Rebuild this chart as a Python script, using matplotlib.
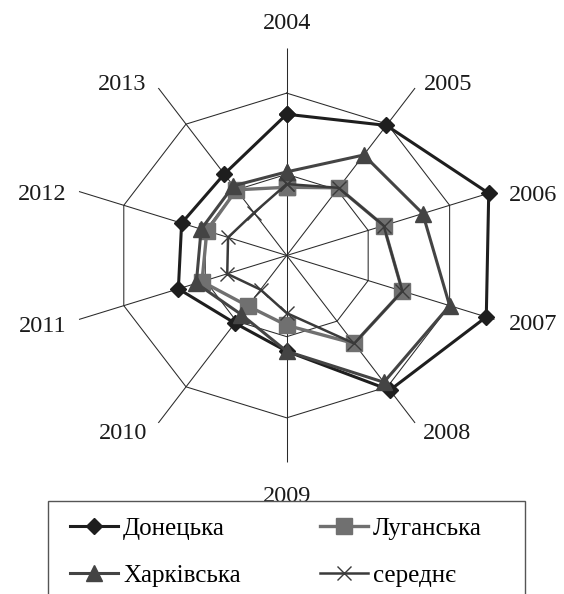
import numpy as np
import matplotlib.pyplot as plt
from matplotlib import font_manager
from matplotlib.patches import Rectangle

# pick a Times-like serif face from the installed files
serif_name = 'DejaVu Serif'
for path in font_manager.findSystemFonts():
    if 'LiberationSerif-Regular' in path:
        font_manager.fontManager.addfont(path)
        serif_name = font_manager.FontProperties(fname=path).get_name()
        break
plt.rcParams['font.family'] = [serif_name, 'DejaVu Serif']

# Categories and series
years = ['2004', '2005', '2006', '2007', '2008', '2009', '2010', '2011', '2012', '2013']
donetska = [1.74, 1.98, 2.48, 2.45, 2.05, 1.18, 1.03, 1.33, 1.29, 1.24]
luhanska = [0.84, 1.03, 1.19, 1.42, 1.34, 0.86, 0.77, 1.04, 0.98, 1.00]
kharkivska = [1.03, 1.53, 1.67, 2.00, 1.93, 1.18, 0.90, 1.11, 1.05, 1.06]
serednie = [0.88, 1.03, 1.19, 1.42, 1.34, 0.71, 0.52, 0.73, 0.72, 0.65]
rings = [1, 2]

RMAX = 2.55

fig = plt.figure(figsize=(5.64, 5.94), dpi=100)
ax = fig.add_axes([0.1211, 0.2214, 0.7745, 0.697], projection='polar')
ax.set_theta_offset(np.pi / 2)
ax.set_theta_direction(-1)
ax.set_aspect('auto')
ax.set_ylim(0, RMAX)

n = len(years)
theta = np.arange(n) * 2 * np.pi / n
theta_c = np.append(theta, theta[0])

# spokes
ax.set_xticks(theta)
ax.set_xticklabels([''] * n)
ax.set_yticks([])
ax.xaxis.grid(True, color='#2a2a2a', lw=0.75)
ax.spines['polar'].set_visible(False)

# polygon rings
for r in rings:
    ax.plot(theta_c, [r] * (n + 1), color='#2a2a2a', lw=0.75, zorder=1)


def closed(v):
    return list(v) + [v[0]]


l_don, = ax.plot(theta_c, closed(donetska), color='#1e1e1e', lw=2.2, marker='D', ms=8.5,
                 mec='#1e1e1e', mfc='#1e1e1e', label='Донецька', zorder=3, clip_on=False)
l_luh, = ax.plot(theta_c, closed(luhanska), color='#707070', lw=2.4, marker='s', ms=11,
                 mec='#707070', mfc='#707070', label='Луганська', zorder=4, clip_on=False)
l_kha, = ax.plot(theta_c, closed(kharkivska), color='#444444', lw=2.2, marker='^', ms=12,
                 mec='#444444', mfc='#444444', label='Харківська', zorder=5, clip_on=False)
l_ser, = ax.plot(theta_c, closed(serednie), color='#3a3a3a', lw=1.8, marker='x', ms=10,
                 mew=1.0, label='середнє', zorder=6, clip_on=False)

# category labels placed around the spoke ends (offsets in pixels)
label_pos = [
    ('center', 0, 19), ('left', 9, -2), ('left', 14, -9), ('left', 14, -11),
    ('left', 8, -16), ('center', 0, -40), ('right', -11, -16), ('right', -12, -13),
    ('right', -12, -8), ('right', -12, -2),
]
for t, y, (ha, dx, dy) in zip(theta, years, label_pos):
    ax.annotate(y, xy=(t, RMAX), xytext=(dx, dy), textcoords='offset pixels',
                ha=ha, va='baseline', fontsize=17.5, color='#1a1a1a',
                annotation_clip=False)

# legend is filled column by column -> order handles so rows read as in the source
handles = [l_don, l_kha, l_luh, l_ser]
leg = fig.legend(handles, [h.get_label() for h in handles],
                 loc='upper left', bbox_to_anchor=(70 / 564, 1 - 517 / 594),
                 ncol=2, frameon=False, fontsize=18, handlelength=1.92,
                 handletextpad=0.2, columnspacing=3.16, labelspacing=0.99,
                 borderpad=0, borderaxespad=0)

fig.patches.append(Rectangle((48 / 564, -0.1), 477 / 564, 0.1 + 93 / 594,
                             transform=fig.transFigure, fill=False,
                             edgecolor='#555555', lw=1.0))

plt.savefig('out.png', dpi=100)
